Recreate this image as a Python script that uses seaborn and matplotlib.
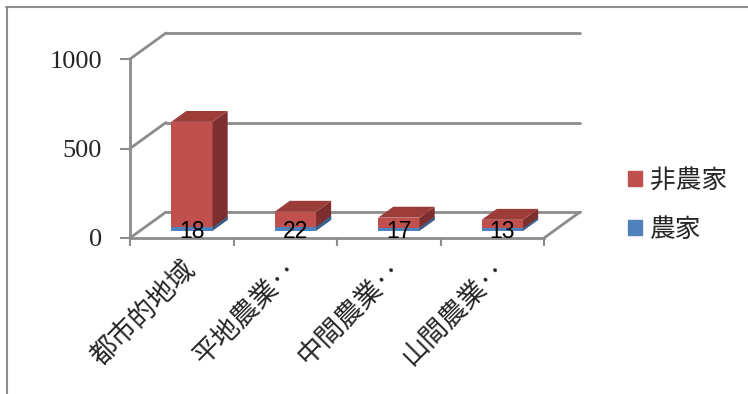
import numpy as np
import pandas as pd
import seaborn as sns
import matplotlib.pyplot as plt
from matplotlib.patches import Polygon, Patch
from matplotlib.lines import Line2D

# values
categories = ['都市的地域', '平地農業‥', '中間農業‥', '山間農業‥']
farm = [18, 22, 17, 13]          # 農家
nonfarm = [590, 84, 56, 48]      # 非農家
yticks = [0, 500, 1000]

RED = '#C0504D'
RED_SIDE = '#7E2F2D'
RED_TOP = '#9C3D3A'
BLUE = '#4F81BD'
BLUE_SIDE = '#3A6291'
GRID = '#8C8C8C'

df = pd.DataFrame({'region': categories, 'farm': farm,
                   'total': np.add(farm, nonfarm)})

sns.set_theme(style='white')
plt.rcParams['font.family'] = ['Noto Sans CJK JP', 'DejaVu Sans']

fig = plt.figure(figsize=(7.48, 3.94), dpi=100)
ax = fig.add_axes([130 / 748, 156 / 394, 414 / 748, 179 / 394])

sns.barplot(data=df, x='region', y='total', color=RED, saturation=1,
            width=0.4, ax=ax, zorder=3)
sns.barplot(data=df, x='region', y='farm', color=BLUE, saturation=1,
            width=0.4, ax=ax, zorder=4)
ax.set_xlim(-0.5, len(categories) - 0.5)
ax.set_ylim(0, 1000)
ax.set_xlabel('')
ax.set_ylabel('')

# depth of the fake 3d box, px -> data units
bb = ax.get_window_extent()
ux = bb.width / len(categories)
uy = bb.height / 1000.0
dx, dy = 36 / ux, 26 / uy
f0, f1 = 0.28, 0.70   # bar front / back position inside the depth

# walls: side diagonals + back gridlines
for v in yticks:
    ax.plot([-0.5, -0.5 + dx], [v, v + dy], color=GRID, lw=2, clip_on=False, zorder=1)
    ax.plot([-0.5 + dx, 3.5 + dx], [v + dy, v + dy], color=GRID, lw=2, clip_on=False, zorder=1)
ax.plot([3.5, 3.5 + dx], [0, dy], color=GRID, lw=2, clip_on=False, zorder=1)

n = len(categories)
reds = ax.patches[:n]
blues = ax.patches[n:2 * n]
for p, side, top in [(r, RED_SIDE, RED_TOP) for r in reds] + [(b, BLUE_SIDE, None) for b in blues]:
    x0, w, h = p.get_x(), p.get_width(), p.get_height()
    p.set_x(x0 + f0 * dx)
    p.set_y(f0 * dy)
    p.set_linewidth(0)
    p.set_clip_on(False)
    xl, xr = x0 + f0 * dx, x0 + f0 * dx + w
    yb, yt = f0 * dy, f0 * dy + h
    ddx, ddy = (f1 - f0) * dx, (f1 - f0) * dy
    z = p.get_zorder()
    ax.add_patch(Polygon([(xr, yb), (xr + ddx, yb + ddy), (xr + ddx, yt + ddy), (xr, yt)],
                         closed=True, facecolor=side, lw=0, zorder=z, clip_on=False))
    if top:
        ax.add_patch(Polygon([(xl, yt), (xr, yt), (xr + ddx, yt + ddy), (xl + ddx, yt + ddy)],
                             closed=True, facecolor=top, lw=0, zorder=z, clip_on=False))

# data labels of the 農家 segment, sitting on the front floor edge
for i, v in enumerate(farm):
    ax.text(i + f0 * dx, 0, str(v), ha='center', va='baseline',
            fontsize=16.5, family='Liberation Sans', color='black', zorder=6)

# axes
for s in ['top', 'right']:
    ax.spines[s].set_visible(False)
for s in ['left', 'bottom']:
    ax.spines[s].set_color(GRID)
    ax.spines[s].set_linewidth(2)
    ax.spines[s].set_zorder(2)

ax.set_yticks(yticks)
ax.set_yticklabels([str(v) for v in yticks], family='Liberation Serif', fontsize=19)
ax.tick_params(axis='y', left=True, length=7, width=1.5, color=GRID, pad=13)

ax.set_xticks(np.arange(-0.5, n), labels=[])
ax.set_xticks(np.arange(n), labels=categories, minor=True)
ax.tick_params(axis='x', which='major', bottom=True, length=6, width=1.5, color=GRID)
ax.tick_params(axis='x', which='minor', bottom=True, length=0, pad=13)
for t in ax.get_xticklabels(minor=True):
    t.set_rotation(45)
    t.set_ha('right')
    t.set_va('top')
    t.set_rotation_mode('anchor')
    t.set_fontsize(19.5)

handles = [Patch(color=RED, label='非農家'), Patch(color=BLUE, label='農家')]
fig.legend(handles=handles, loc='center left', bbox_to_anchor=(605 / 748, 189 / 394),
           frameon=False, fontsize=18.5, handlelength=0.55, handleheight=0.55,
           handletextpad=0.3, labelspacing=0.9)

# outer border
fig.add_artist(Line2D([6 / 748, 1], [1 - 7 / 394, 1 - 7 / 394], color=GRID, lw=1.5))
fig.add_artist(Line2D([7 / 748, 7 / 748], [0, 1 - 7 / 394], color=GRID, lw=1.5))

fig.savefig('out.png', dpi=100)
